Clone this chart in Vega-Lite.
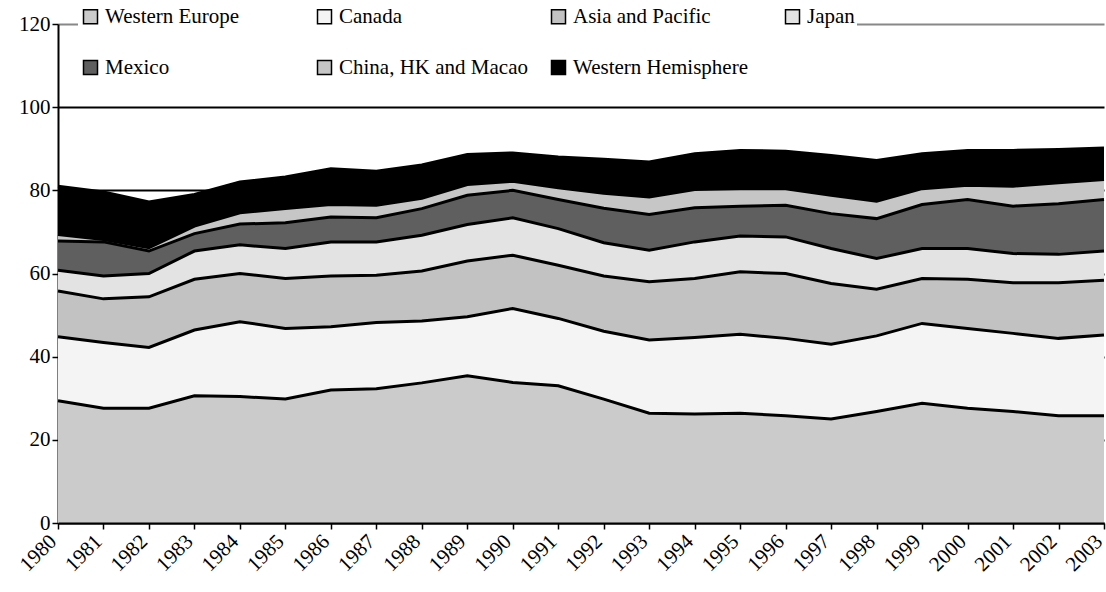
{
  "$schema": "https://vega.github.io/schema/vega-lite/v6.json",
  "width": 1046,
  "height": 499,
  "autosize": {"type": "none"},
  "padding": {"left": 58, "top": 24, "right": 2, "bottom": 69},
  "background": "white",
  "config": {"font": "Liberation Serif", "view": {"stroke": null}},
  "datasets": {
    "regions": [
      {"region": "Western Europe", "stackOrder": 1},
      {"region": "Canada", "stackOrder": 2},
      {"region": "Asia and Pacific", "stackOrder": 3},
      {"region": "Japan", "stackOrder": 4},
      {"region": "Mexico", "stackOrder": 5},
      {"region": "China, HK and Macao", "stackOrder": 6},
      {"region": "Western Hemisphere", "stackOrder": 7}
    ],
    "shares": [
      {"year":1980,"region":"Western Europe","share":29.4},{"year":1980,"region":"Canada","share":15.4},{"year":1980,"region":"Asia and Pacific","share":11.0},{"year":1980,"region":"Japan","share":5.0},{"year":1980,"region":"Mexico","share":7.0},{"year":1980,"region":"China, HK and Macao","share":1.6},{"year":1980,"region":"Western Hemisphere","share":11.6},
      {"year":1981,"region":"Western Europe","share":27.6},{"year":1981,"region":"Canada","share":15.8},{"year":1981,"region":"Asia and Pacific","share":10.5},{"year":1981,"region":"Japan","share":5.5},{"year":1981,"region":"Mexico","share":8.2},{"year":1981,"region":"China, HK and Macao","share":0.6},{"year":1981,"region":"Western Hemisphere","share":11.4},
      {"year":1982,"region":"Western Europe","share":27.6},{"year":1982,"region":"Canada","share":14.6},{"year":1982,"region":"Asia and Pacific","share":12.2},{"year":1982,"region":"Japan","share":5.6},{"year":1982,"region":"Mexico","share":5.4},{"year":1982,"region":"China, HK and Macao","share":0.8},{"year":1982,"region":"Western Hemisphere","share":11.0},
      {"year":1983,"region":"Western Europe","share":30.6},{"year":1983,"region":"Canada","share":15.8},{"year":1983,"region":"Asia and Pacific","share":12.2},{"year":1983,"region":"Japan","share":6.8},{"year":1983,"region":"Mexico","share":4.2},{"year":1983,"region":"China, HK and Macao","share":1.8},{"year":1983,"region":"Western Hemisphere","share":7.6},
      {"year":1984,"region":"Western Europe","share":30.4},{"year":1984,"region":"Canada","share":18.0},{"year":1984,"region":"Asia and Pacific","share":11.6},{"year":1984,"region":"Japan","share":6.9},{"year":1984,"region":"Mexico","share":5.0},{"year":1984,"region":"China, HK and Macao","share":2.7},{"year":1984,"region":"Western Hemisphere","share":7.4},
      {"year":1985,"region":"Western Europe","share":29.8},{"year":1985,"region":"Canada","share":17.0},{"year":1985,"region":"Asia and Pacific","share":12.0},{"year":1985,"region":"Japan","share":7.2},{"year":1985,"region":"Mexico","share":6.2},{"year":1985,"region":"China, HK and Macao","share":3.4},{"year":1985,"region":"Western Hemisphere","share":7.6},
      {"year":1986,"region":"Western Europe","share":32.0},{"year":1986,"region":"Canada","share":15.2},{"year":1986,"region":"Asia and Pacific","share":12.2},{"year":1986,"region":"Japan","share":8.2},{"year":1986,"region":"Mexico","share":6.0},{"year":1986,"region":"China, HK and Macao","share":3.0},{"year":1986,"region":"Western Hemisphere","share":8.6},
      {"year":1987,"region":"Western Europe","share":32.3},{"year":1987,"region":"Canada","share":15.9},{"year":1987,"region":"Asia and Pacific","share":11.4},{"year":1987,"region":"Japan","share":8.0},{"year":1987,"region":"Mexico","share":5.8},{"year":1987,"region":"China, HK and Macao","share":3.0},{"year":1987,"region":"Western Hemisphere","share":8.2},
      {"year":1988,"region":"Western Europe","share":33.7},{"year":1988,"region":"Canada","share":14.9},{"year":1988,"region":"Asia and Pacific","share":12.0},{"year":1988,"region":"Japan","share":8.6},{"year":1988,"region":"Mexico","share":6.4},{"year":1988,"region":"China, HK and Macao","share":2.5},{"year":1988,"region":"Western Hemisphere","share":8.0},
      {"year":1989,"region":"Western Europe","share":35.4},{"year":1989,"region":"Canada","share":14.2},{"year":1989,"region":"Asia and Pacific","share":13.4},{"year":1989,"region":"Japan","share":8.8},{"year":1989,"region":"Mexico","share":7.0},{"year":1989,"region":"China, HK and Macao","share":2.6},{"year":1989,"region":"Western Hemisphere","share":7.2},
      {"year":1990,"region":"Western Europe","share":33.8},{"year":1990,"region":"Canada","share":17.8},{"year":1990,"region":"Asia and Pacific","share":12.8},{"year":1990,"region":"Japan","share":9.0},{"year":1990,"region":"Mexico","share":6.6},{"year":1990,"region":"China, HK and Macao","share":2.2},{"year":1990,"region":"Western Hemisphere","share":6.8},
      {"year":1991,"region":"Western Europe","share":33.0},{"year":1991,"region":"Canada","share":16.2},{"year":1991,"region":"Asia and Pacific","share":12.8},{"year":1991,"region":"Japan","share":8.8},{"year":1991,"region":"Mexico","share":7.0},{"year":1991,"region":"China, HK and Macao","share":2.8},{"year":1991,"region":"Western Hemisphere","share":7.4},
      {"year":1992,"region":"Western Europe","share":29.8},{"year":1992,"region":"Canada","share":16.3},{"year":1992,"region":"Asia and Pacific","share":13.3},{"year":1992,"region":"Japan","share":8.0},{"year":1992,"region":"Mexico","share":8.3},{"year":1992,"region":"China, HK and Macao","share":3.6},{"year":1992,"region":"Western Hemisphere","share":8.2},
      {"year":1993,"region":"Western Europe","share":26.4},{"year":1993,"region":"Canada","share":17.6},{"year":1993,"region":"Asia and Pacific","share":14.0},{"year":1993,"region":"Japan","share":7.6},{"year":1993,"region":"Mexico","share":8.6},{"year":1993,"region":"China, HK and Macao","share":4.2},{"year":1993,"region":"Western Hemisphere","share":8.4},
      {"year":1994,"region":"Western Europe","share":26.2},{"year":1994,"region":"Canada","share":18.4},{"year":1994,"region":"Asia and Pacific","share":14.2},{"year":1994,"region":"Japan","share":8.8},{"year":1994,"region":"Mexico","share":8.2},{"year":1994,"region":"China, HK and Macao","share":4.4},{"year":1994,"region":"Western Hemisphere","share":8.6},
      {"year":1995,"region":"Western Europe","share":26.4},{"year":1995,"region":"Canada","share":19.0},{"year":1995,"region":"Asia and Pacific","share":15.0},{"year":1995,"region":"Japan","share":8.6},{"year":1995,"region":"Mexico","share":7.2},{"year":1995,"region":"China, HK and Macao","share":4.2},{"year":1995,"region":"Western Hemisphere","share":9.2},
      {"year":1996,"region":"Western Europe","share":25.8},{"year":1996,"region":"Canada","share":18.6},{"year":1996,"region":"Asia and Pacific","share":15.6},{"year":1996,"region":"Japan","share":8.8},{"year":1996,"region":"Mexico","share":7.6},{"year":1996,"region":"China, HK and Macao","share":4.0},{"year":1996,"region":"Western Hemisphere","share":9.0},
      {"year":1997,"region":"Western Europe","share":25.0},{"year":1997,"region":"Canada","share":18.0},{"year":1997,"region":"Asia and Pacific","share":14.6},{"year":1997,"region":"Japan","share":8.4},{"year":1997,"region":"Mexico","share":8.4},{"year":1997,"region":"China, HK and Macao","share":4.4},{"year":1997,"region":"Western Hemisphere","share":9.6},
      {"year":1998,"region":"Western Europe","share":26.8},{"year":1998,"region":"Canada","share":18.2},{"year":1998,"region":"Asia and Pacific","share":11.2},{"year":1998,"region":"Japan","share":7.4},{"year":1998,"region":"Mexico","share":9.6},{"year":1998,"region":"China, HK and Macao","share":4.2},{"year":1998,"region":"Western Hemisphere","share":9.8},
      {"year":1999,"region":"Western Europe","share":28.8},{"year":1999,"region":"Canada","share":19.2},{"year":1999,"region":"Asia and Pacific","share":10.8},{"year":1999,"region":"Japan","share":7.2},{"year":1999,"region":"Mexico","share":10.6},{"year":1999,"region":"China, HK and Macao","share":3.8},{"year":1999,"region":"Western Hemisphere","share":8.4},
      {"year":2000,"region":"Western Europe","share":27.6},{"year":2000,"region":"Canada","share":19.2},{"year":2000,"region":"Asia and Pacific","share":11.8},{"year":2000,"region":"Japan","share":7.4},{"year":2000,"region":"Mexico","share":11.8},{"year":2000,"region":"China, HK and Macao","share":3.4},{"year":2000,"region":"Western Hemisphere","share":8.4},
      {"year":2001,"region":"Western Europe","share":26.8},{"year":2001,"region":"Canada","share":18.8},{"year":2001,"region":"Asia and Pacific","share":12.2},{"year":2001,"region":"Japan","share":7.0},{"year":2001,"region":"Mexico","share":11.4},{"year":2001,"region":"China, HK and Macao","share":4.8},{"year":2001,"region":"Western Hemisphere","share":8.6},
      {"year":2002,"region":"Western Europe","share":25.8},{"year":2002,"region":"Canada","share":18.6},{"year":2002,"region":"Asia and Pacific","share":13.4},{"year":2002,"region":"Japan","share":6.8},{"year":2002,"region":"Mexico","share":12.2},{"year":2002,"region":"China, HK and Macao","share":5.0},{"year":2002,"region":"Western Hemisphere","share":8.0},
      {"year":2003,"region":"Western Europe","share":25.8},{"year":2003,"region":"Canada","share":19.4},{"year":2003,"region":"Asia and Pacific","share":13.2},{"year":2003,"region":"Japan","share":7.0},{"year":2003,"region":"Mexico","share":12.4},{"year":2003,"region":"China, HK and Macao","share":4.8},{"year":2003,"region":"Western Hemisphere","share":7.6}
    ]
  },
  "data": {"name": "shares"},
  "transform": [
    {"lookup": "region", "from": {"data": {"name": "regions"}, "key": "region", "fields": ["stackOrder"]}}
  ],
  "layer": [
    {
      "mark": {"type": "area"},
      "encoding": {
        "x": {
          "field": "year", "type": "quantitative",
          "scale": {"domain": [1980, 2003], "nice": false, "zero": false},
          "axis": {
            "values": [1980,1981,1982,1983,1984,1985,1986,1987,1988,1989,1990,1991,1992,1993,1994,1995,1996,1997,1998,1999,2000,2001,2002,2003],
            "format": "d", "labelAngle": -45, "labelFontSize": 21, "labelFont": "Liberation Serif",
            "labelColor": "black", "labelAlign": "right", "labelBaseline": "middle", "labelOffset": -5,
            "domainColor": "black", "domainWidth": 2,
            "tickColor": "black", "tickSize": 6, "tickWidth": 1.5, "grid": false, "title": null,
            "labelPadding": 9, "labelFlush": false, "labelOverlap": false, "zindex": 1
          }
        },
        "y": {
          "field": "share", "type": "quantitative", "stack": "zero",
          "scale": {"domain": [0, 120], "nice": false},
          "axis": {
            "values": [0, 20, 40, 60, 80, 100, 120],
            "labelFontSize": 21, "labelFont": "Liberation Serif", "labelColor": "black",
            "domainColor": "black", "domainWidth": 2, "tickColor": "black", "tickSize": 6, "tickWidth": 1.5,
            "grid": true,
            "gridColor": {"condition": {"test": "datum.value == 120", "value": "#888888"}, "value": "black"},
            "gridWidth": 2, "title": null, "labelPadding": 2
          }
        },
        "order": {"field": "stackOrder", "type": "quantitative", "sort": "ascending"},
        "color": {
          "field": "region", "type": "nominal",
          "scale": {
            "domain": ["Western Europe", "Canada", "Asia and Pacific", "Japan", "Mexico", "China, HK and Macao", "Western Hemisphere"],
            "range": ["#cbcbcb", "#f4f4f4", "#c2c2c2", "#e3e3e3", "#5f5f5f", "#c6c6c6", "#000000"]
          },
          "legend": {
            "orient": "none", "legendX": 20, "legendY": -20, "direction": "horizontal",
            "columns": 4, "gridAlign": "all", "columnPadding": 20, "rowPadding": 29,
            "symbolType": "square", "symbolSize": 196, "symbolStrokeColor": "black", "symbolStrokeWidth": 1.5,
            "symbolOpacity": 1, "labelFontSize": 21, "labelFont": "Liberation Serif", "labelColor": "black",
            "labelLimit": 400, "labelOffset": 4, "title": null, "fillColor": "white", "padding": 2,
            "values": ["Western Europe", "Canada", "Asia and Pacific", "Japan", "Mexico", "China, HK and Macao", "Western Hemisphere"]
          }
        }
      }
    },
    {
      "mark": {"type": "line", "strokeWidth": 3},
      "encoding": {
        "x": {"field": "year", "type": "quantitative"},
        "y": {"field": "share", "type": "quantitative", "stack": "zero"},
        "order": {"field": "stackOrder", "type": "quantitative", "sort": "ascending"},
        "stroke": {
          "field": "region", "type": "nominal",
          "scale": {
            "domain": ["Western Europe", "Canada", "Asia and Pacific", "Japan", "Mexico", "China, HK and Macao", "Western Hemisphere"],
            "range": ["#000000", "#000000", "#000000", "#000000", "#000000", "#000000", "#000000"]
          },
          "legend": null
        }
      }
    }
  ]
}
